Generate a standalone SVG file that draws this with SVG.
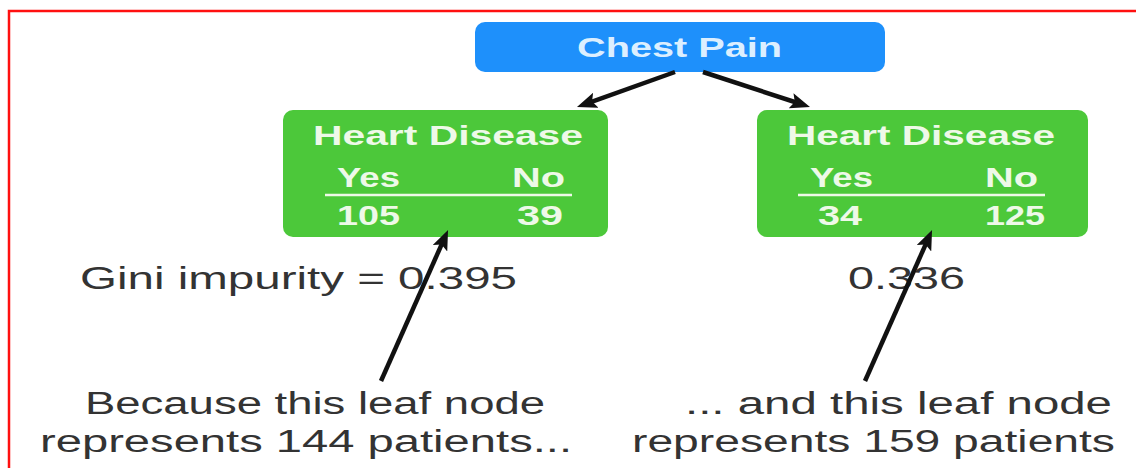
<svg xmlns="http://www.w3.org/2000/svg" width="1136" height="468" viewBox="0 0 1136 468">
  <defs>
    <marker id="head" viewBox="0 0 20 16" markerWidth="20" markerHeight="16" refX="12" refY="8" orient="auto" markerUnits="userSpaceOnUse">
      <path d="M0,0 L20,8 L0,16 L4,8 z" fill="#111"/>
    </marker>
    <style>
      .t { font-family: "Liberation Sans", Arial, sans-serif; }
      .root-box { fill: #1e90fb; }
      .leaf-box { fill: #4cc83a; }
      .root-txt { fill: #dcefff; font-weight: bold; font-size: 28px; }
      .leaf-txt { fill: #eef9e8; font-weight: bold; font-size: 27px; }
      .rule { stroke: #eef9e8; stroke-width: 2.5; }
      .note { fill: #333333; font-size: 31px; }
      .conn { stroke: #111; stroke-width: 4.5; fill: none; marker-end: url(#head); }
      .frame { stroke: #ff1010; stroke-width: 2.5; fill: none; }
    </style>
  </defs>

  <rect width="1136" height="468" fill="#ffffff"/>

  <!-- frame -->
  <path class="frame" d="M9,468 L9,11 L1136,11"/>

  <!-- root -->
  <g id="chest-pain">
    <rect class="root-box" x="475" y="22" width="410" height="50" rx="10"/>
    <text class="t root-txt" x="577" y="57" textLength="205" lengthAdjust="spacingAndGlyphs">Chest Pain</text>
  </g>

  <!-- left leaf -->
  <g id="leaf-left">
    <rect class="leaf-box" x="283" y="110" width="325" height="127" rx="10"/>
    <text class="t leaf-txt" x="313" y="145" textLength="270" lengthAdjust="spacingAndGlyphs">Heart Disease</text>
    <text class="t leaf-txt" x="337" y="187" textLength="63" lengthAdjust="spacingAndGlyphs">Yes</text>
    <text class="t leaf-txt" x="512" y="187" textLength="53" lengthAdjust="spacingAndGlyphs">No</text>
    <line class="rule" x1="325" y1="195" x2="572" y2="195"/>
    <text class="t leaf-txt" x="337" y="225" textLength="63" lengthAdjust="spacingAndGlyphs">105</text>
    <text class="t leaf-txt" x="517" y="225" textLength="46" lengthAdjust="spacingAndGlyphs">39</text>
  </g>

  <!-- right leaf -->
  <g id="leaf-right">
    <rect class="leaf-box" x="757" y="110" width="331" height="127" rx="10"/>
    <text class="t leaf-txt" x="787" y="145" textLength="268" lengthAdjust="spacingAndGlyphs">Heart Disease</text>
    <text class="t leaf-txt" x="810" y="187" textLength="63" lengthAdjust="spacingAndGlyphs">Yes</text>
    <text class="t leaf-txt" x="985" y="187" textLength="53" lengthAdjust="spacingAndGlyphs">No</text>
    <line class="rule" x1="798" y1="195" x2="1045" y2="195"/>
    <text class="t leaf-txt" x="818" y="225" textLength="44" lengthAdjust="spacingAndGlyphs">34</text>
    <text class="t leaf-txt" x="985" y="225" textLength="60" lengthAdjust="spacingAndGlyphs">125</text>
  </g>

  <!-- annotations -->
  <g id="gini-left">
    <text class="t note" x="80" y="289" textLength="437" lengthAdjust="spacingAndGlyphs">Gini impurity = 0.395</text>
  </g>
  <g id="gini-right">
    <text class="t note" x="848" y="289" textLength="117" lengthAdjust="spacingAndGlyphs">0.336</text>
  </g>
  <g id="note-left">
    <text class="t note" x="85" y="414" textLength="460" lengthAdjust="spacingAndGlyphs">Because this leaf node</text>
    <text class="t note" x="40" y="452" textLength="532" lengthAdjust="spacingAndGlyphs">represents 144 patients...</text>
  </g>
  <g id="note-right">
    <text class="t note" x="685" y="414" textLength="427" lengthAdjust="spacingAndGlyphs">... and this leaf node</text>
    <text class="t note" x="632" y="452" textLength="483" lengthAdjust="spacingAndGlyphs">represents 159 patients</text>
  </g>

  <!-- connectors: line ends sit 8px short of each arrow tip -->
  <g id="connectors">
    <line class="conn" x1="675" y1="72" x2="584.5" y2="104.3"/>
    <line class="conn" x1="703" y1="72" x2="802.4" y2="104.5"/>
    <line class="conn" x1="381" y1="381" x2="444.8" y2="237.3"/>
    <line class="conn" x1="865" y1="381" x2="928.8" y2="237.3"/>
  </g>
</svg>
